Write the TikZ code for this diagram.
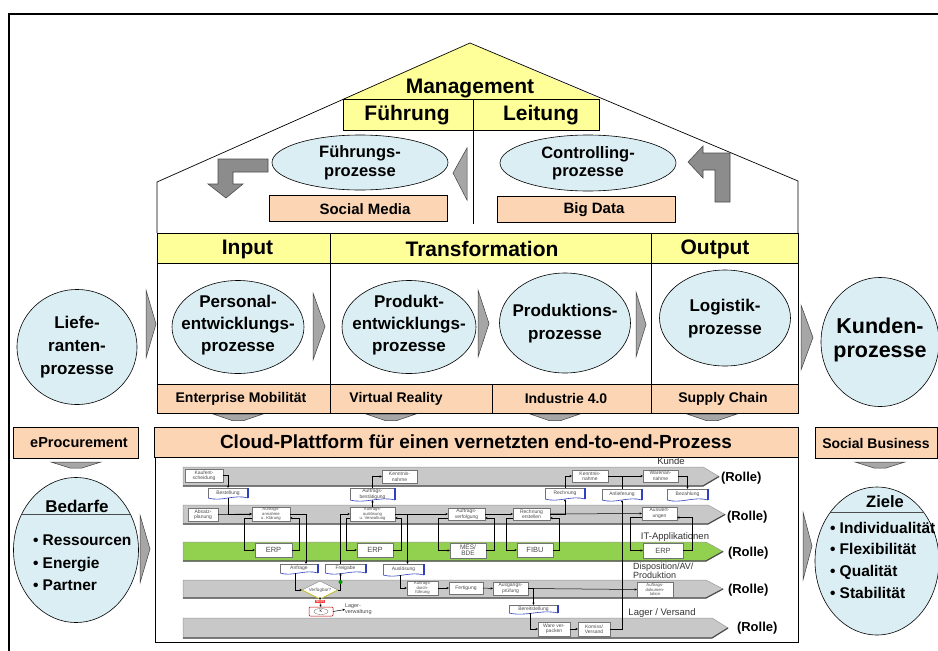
\documentclass[tikz,border=0pt]{standalone}
\usepackage{fontspec}
\setmainfont{Liberation Sans}
\usetikzlibrary{shapes.geometric,arrows.meta,calc}
\definecolor{yel}{HTML}{FFFF99}
\definecolor{peach}{HTML}{FCD5B5}
\definecolor{lblue}{HTML}{DBEEF4}
\definecolor{arrgray}{HTML}{A6A6A6}
\definecolor{bentgray}{HTML}{8C8C8C}
\definecolor{lanegray}{HTML}{C8C8C8}
\definecolor{lanegreen}{HTML}{92D050}
\definecolor{docblue}{HTML}{2F3FBF}
\newcommand\fsz[2]{\fontsize{#1}{#2}\selectfont}
\newcommand\docshape[1]{%
  \draw[black!55, line width=0.4pt] (#1.south west) -- (#1.north west) -- (#1.north east);
  \draw[docblue, line width=0.6pt] (#1.south west) .. controls ($(#1.south west)!0.35!(#1.south east)+(0,4)$) and ($(#1.south west)!0.65!(#1.south east)+(0,-4)$) .. (#1.south east);
  \draw[docblue, line width=1.1pt] (#1.north east) -- (#1.south east);
}
\begin{document}
\begin{tikzpicture}[x=1pt,y=-1pt,
  every node/.style={inner sep=0pt, outer sep=0pt},
  yelbox/.style={draw=black, line width=0.6pt, fill=yel},
  peachbox/.style={draw=black, line width=0.6pt, fill=peach},
  whitecell/.style={draw=black, line width=0.6pt, fill=white},
  procell/.style={ellipse, draw=black, line width=0.6pt, fill=lblue},
  ptext/.style={align=center, font=\bfseries\fsz{17}{22}},
  grarrow/.style={fill=arrgray, draw=black!75, line width=0.5pt},
  bent/.style={fill=bentgray, draw=black!70, line width=0.6pt},
  lanebg/.style={fill=lanegray, draw=black!40, line width=0.5pt},
  laneshadow/.style={draw=black!70, line width=1.2pt},
  pbox/.style={draw=black!55, line width=0.4pt, fill=white, align=center, font=\fsz{5}{5.5}, text=black!70},
  pboxs/.style={pbox, font=\fsz{4.2}{4.4}},
  itbox/.style={pbox, font=\fsz{7.5}{7.5}},
  docbox/.style={fill=white, align=center, font=\fsz{5}{5.5}, text=black!70},
  conn/.style={draw=black, line width=0.5pt, -{Stealth[length=2.5pt,width=2.2pt]}},
  plainline/.style={draw=black, line width=0.5pt},
  rolle/.style={font=\bfseries\fsz{13}{15}, anchor=west},
  lanelbl/.style={font=\fsz{9.5}{10.5}, text=black!80},
  bigbold/.style={font=\bfseries\fsz{21}{24}},
  lblbold/.style={font=\bfseries\fsz{14}{16}},
]
\useasboundingbox (0,0) rectangle (938,651);
\clip (0,0) rectangle (938,651);
\fill[white] (0,0) rectangle (938,651);
\draw[line width=2.2pt] (9,14) rectangle (990,700);

% ---------- roof ----------
\fill[yel] (470,43) -- (600,99) -- (343,99) -- cycle;
\draw[black, line width=0.7pt] (157,233) -- (157,182) -- (470,43) -- (798,181) -- (798,233);
\node[bigbold, anchor=base] (mgmt) at (470,93) {Management};
\node[yelbox, minimum width=130, minimum height=31] (fuehr) at (408,114.5) {};
\node[yelbox, minimum width=126, minimum height=31] (leit) at (536,114.5) {};
\node[bigbold] (fuehrt) at (407,115) {Führung};
\node[bigbold] (leitt) at (541,115) {Leitung};
\draw[plainline, line width=0.7pt] (fuehr.north east) -- (fuehr.north east |- 0,224);

\node[procell, minimum width=176, minimum height=55] (fp) at (360,162.5) {};
\node[ptext, font=\bfseries\fsz{16.5}{18.5}] (fpt) at (fp) {Führungs-\\prozesse};
\node[procell, minimum width=176, minimum height=56] (cp) at (588,163) {};
\node[ptext, font=\bfseries\fsz{16.5}{18.5}] (cpt) at (cp) {Controlling-\\prozesse};
\node[peachbox, minimum width=178, minimum height=26] (sm) at (358,208) {};
\node[font=\bfseries\fsz{15}{17}] (smt) at (365,209) {Social Media};
\node[peachbox, minimum width=178, minimum height=26] (bd) at (586,209) {};
\node[font=\bfseries\fsz{15}{17}] (bdt) at (594,210) {Big Data};

\draw[bent] (268,159) -- (218,159) -- (218,184) -- (208,184) -- (226,198) -- (243,184) -- (233,184) -- (233,172) -- (268,172) -- cycle;
\draw[bent] (730,202) -- (730,153) -- (703,153) -- (703,146) -- (688,162) -- (703,178) -- (703,170) -- (715,170) -- (715,202) -- cycle;
\draw[grarrow] (453,173) -- (467,148) -- (467,200) -- cycle;

% ---------- body ----------
\node[yelbox, minimum width=173, minimum height=30] (inp) at (243.5,248) {};
\node[yelbox, minimum width=321, minimum height=30] (trans) at (490.5,248) {};
\node[yelbox, minimum width=147, minimum height=30] (outp) at (724.5,248) {};
\node[bigbold] (inpt) at (247.5,249) {Input};
\node[bigbold] (transt) at (482,249) {Transformation};
\node[bigbold] (outpt) at (715,249) {Output};

\node[whitecell, minimum width=173, minimum height=121] (m1) at (243.5,323.5) {};
\node[whitecell, minimum width=321, minimum height=121] (m2) at (490.5,323.5) {};
\node[whitecell, minimum width=147, minimum height=121] (m3) at (724.5,323.5) {};

\node[peachbox, minimum width=173, minimum height=29] (ent) at (243.5,398.5) {};
\node[peachbox, minimum width=162, minimum height=29] (vr) at (411,398.5) {};
\node[peachbox, minimum width=159, minimum height=29] (ind) at (571.5,398.5) {};
\node[peachbox, minimum width=147, minimum height=29] (sc) at (724.5,398.5) {};
\node[lblbold] (entt) at (241,399) {Enterprise Mobilität};
\node[lblbold] (vrt) at (396,399) {Virtual Reality};
\node[lblbold] (indt) at (566,398) {Industrie 4.0};
\node[lblbold] (sct) at (723,399) {Supply Chain};

\node[procell, minimum width=120, minimum height=115] (lief) at (77,347) {};
\node[ptext, font=\bfseries\fsz{17}{23}] (lieft) at (77,347) {Liefe-\\ranten-\\prozesse};
\node[procell, minimum width=132, minimum height=93] (pers) at (238,327) {};
\node[ptext] (perst) at (238,325) {Personal-\\entwicklungs-\\prozesse};
\node[procell, minimum width=134, minimum height=93] (prod) at (409,327) {};
\node[ptext] (prodt) at (409,325) {Produkt-\\entwicklungs-\\prozesse};
\node[procell, minimum width=131, minimum height=100] (prodn) at (565,323) {};
\node[ptext, font=\bfseries\fsz{17}{23}] (prodnt) at (565,324) {Produktions-\\prozesse};
\node[procell, minimum width=131, minimum height=96] (logi) at (725,318) {};
\node[ptext, font=\bfseries\fsz{17}{23}] (logit) at (725,319) {Logistik-\\prozesse};
\node[procell, minimum width=118, minimum height=129] (kunden) at (880,342) {};
\node[ptext, font=\bfseries\fsz{21.5}{24}] (kundent) at (880,340) {Kunden-\\prozesse};

\draw[grarrow] (146,290) -- (156,324) -- (146,358) -- cycle;
\draw[grarrow] (313,293) -- (325,326.5) -- (313,360) -- cycle;
\draw[grarrow] (478,290) -- (489,323.5) -- (478,357) -- cycle;
\draw[grarrow] (636,292) -- (646,324.5) -- (636,357) -- cycle;
\draw[grarrow] (801,305) -- (813,337.5) -- (801,370) -- cycle;

% down arrows
\foreach \cx in {238,391,555,712} {
  \draw[grarrow] (\cx-25,414) -- (\cx+25,414) -- (\cx+6,420.5) -- (\cx-6,420.5) -- cycle;
}
\draw[grarrow] (51,462) -- (101,462) -- (82,468) -- (70,468) -- cycle;
\draw[grarrow] (855,462) -- (905,462) -- (886,468) -- (874,468) -- cycle;

% ---------- cloud row ----------
\node[peachbox, minimum width=644, minimum height=30] (cloud) at (476,442) {};
\node[font=\bfseries\fsz{19}{21}] (cloudt) at (476,442) {Cloud-Plattform für einen vernetzten end-to-end-Prozess};
\node[peachbox, minimum width=125, minimum height=31] (eproc) at (75.5,442.5) {};
\node[font=\bfseries\fsz{14.5}{16}] (eproct) at (79,443) {eProcurement};
\node[peachbox, minimum width=122, minimum height=31] (socbus) at (876,442.5) {};
\node[font=\bfseries\fsz{14}{16}] (socbust) at (876,443) {Social Business};

% ---------- Bedarfe / Ziele ----------
\node[procell, minimum width=125, minimum height=145] (bed) at (76,550) {};
\draw[black!70, line width=1pt] (22,514) -- (130,514);
\node[font=\bfseries\fsz{17}{19}, anchor=base] (bedt) at (77,512) {Bedarfe};
\node[font=\bfseries\fsz{15.5}{17}, anchor=base west] (b1) at (33,545) {• Ressourcen};
\node[font=\bfseries\fsz{15.5}{17}, anchor=base west] (b2) at (33,568) {• Energie};
\node[font=\bfseries\fsz{15.5}{17}, anchor=base west] (b3) at (33,590) {• Partner};
\draw[grarrow] (140,515) -- (150,549) -- (140,583) -- cycle;

\node[procell, minimum width=124, minimum height=148] (ziel) at (877,561) {};
\draw[black!70, line width=1pt] (830.5,512) -- (923.5,512);
\node[font=\bfseries\fsz{16.5}{19}, anchor=base] (zielt) at (885,507) {Ziele};
\node[font=\bfseries\fsz{15.5}{17}, anchor=base west] (z1) at (830,533) {• Individualität};
\node[font=\bfseries\fsz{15.5}{17}, anchor=base west] (z2) at (830,554) {• Flexibilität};
\node[font=\bfseries\fsz{15.5}{17}, anchor=base west] (z3) at (830,576) {• Qualität};
\node[font=\bfseries\fsz{15.5}{17}, anchor=base west] (z4) at (830,598) {• Stabilität};
\draw[grarrow] (803,512) -- (812,546) -- (803,580) -- cycle;

% ---------- process chart ----------
\node[draw=black, line width=0.8pt, fill=white, minimum width=643, minimum height=185] (chart) at (476.5,549.5) {};

\draw[lanebg] (183,467) -- (703,467) -- (719,476.5) -- (703,486) -- (183,486) -- cycle;
\draw[laneshadow] (183,486) -- (703,486) -- (719,476.5);
\draw[lanebg] (183,505) -- (708,505) -- (725,514.5) -- (708,524) -- (183,524) -- cycle;
\draw[laneshadow] (183,524) -- (708,524) -- (725,514.5);
\draw[lanebg, fill=lanegreen] (183,542) -- (706,542) -- (723,551.5) -- (706,561) -- (183,561) -- cycle;
\draw[laneshadow] (183,561) -- (706,561) -- (723,551.5);
\draw[lanebg] (183,580) -- (706,580) -- (723,589) -- (706,598) -- (183,598) -- cycle;
\draw[laneshadow] (183,598) -- (706,598) -- (723,589);
\draw[lanebg] (183,618) -- (712,618) -- (728,628) -- (712,638) -- (183,638) -- cycle;
\draw[laneshadow] (183,638) -- (712,638) -- (728,628);

\node[lanelbl] (kundel) at (671,461.5) {Kunde};
\node[lanelbl] (itl) at (675,537) {IT-Applikationen};
\node[lanelbl, font=\fsz{9}{8.5}, align=left, anchor=north west] (dispo) at (633,563) {Disposition/AV/\\Produktion};
\node[lanelbl] (lagl) at (662,613) {Lager / Versand};

\node[rolle] (r1) at (721,478) {(Rolle)};
\node[rolle] (r2) at (727,517) {(Rolle)};
\node[rolle] (r3) at (728,553) {(Rolle)};
\node[rolle] (r4) at (728,590) {(Rolle)};
\node[rolle] (r5) at (737,628) {(Rolle)};

% lane 1
\node[pbox, minimum width=38, minimum height=13] (kauf) at (204,475.5) {Kaufent-\\scheidung};
\node[pbox, minimum width=35, minimum height=13] (kenn1) at (399.5,476.5) {Kenntnis-\\nahme};
\node[pbox, minimum width=36, minimum height=12] (kenn2) at (590,476) {Kenntnis-\\nahme};
\node[pbox, minimum width=35, minimum height=12] (waren) at (660.5,476) {Warenan-\\nahme};
% documents 1/2
\node[docbox, minimum width=40, minimum height=10] (best) at (228,493) {Bestellung};
\node[docbox, minimum width=45, minimum height=12] (abest) at (372.5,494) {Auftrags-\\bestätigung};
\node[docbox, minimum width=40, minimum height=11] (rech) at (565,493.5) {Rechnung};
\node[docbox, minimum width=40, minimum height=11] (anlief) at (622,494.5) {Anlieferung};
\node[docbox, minimum width=41, minimum height=11] (bez) at (687.5,494.5) {Bezahlung};
\docshape{best}\docshape{abest}\docshape{rech}\docshape{anlief}\docshape{bez}
% lane 2
\node[pbox, minimum width=30, minimum height=13] (absatz) at (203,514.5) {Absatz-\\planung};
\node[pboxs, minimum width=38, minimum height=14] (aannahme) at (271,514) {Auftrags-\\annahme\\u. Klärung};
\node[pboxs, minimum width=45, minimum height=14] (aausl) at (372.5,514) {Auftrags-\\auslösung\\u. Verwaltung};
\node[pbox, minimum width=37, minimum height=12] (averf) at (466.5,514) {Auftrags-\\verfolgung};
\node[pbox, minimum width=37, minimum height=12] (rerst) at (531.5,514) {Rechnung\\erstellen};
\node[pbox, minimum width=35, minimum height=13] (ausw) at (659.5,513.5) {Auswert-\\ungen};
% lane 3
\node[itbox, minimum width=37, minimum height=14] (erp1) at (273.5,550) {ERP};
\node[itbox, minimum width=36, minimum height=14] (erp2) at (375,550) {ERP};
\node[itbox, font=\fsz{6.5}{6}, minimum width=36, minimum height=15] (mes) at (468,550.5) {MES/\\BDE};
\node[itbox, minimum width=36, minimum height=14] (fibu) at (535,550) {FIBU};
\node[itbox, minimum width=40, minimum height=15] (erp3) at (663,550.5) {ERP};
% documents 3/4
\node[docbox, minimum width=38, minimum height=9] (anfr) at (299,568.5) {Anfrage};
\node[docbox, minimum width=41, minimum height=9] (freig) at (345.5,568.5) {Freigabe};
\node[docbox, minimum width=41, minimum height=11] (auslos) at (403.5,569.5) {Auslösung};
\docshape{anfr}\docshape{freig}\docshape{auslos}
% lane 4
\node[diamond, aspect=2, draw=black!55, fill=white, line width=0.4pt, minimum width=36, minimum height=18, font=\fsz{4.5}{5}, text=black!70] (verf) at (320,590) {Verfügbar?};
\draw[yellow!80!black, line width=0.8pt] (verf.west) -- (verf.south) -- (verf.east);
\node[pboxs, minimum width=31, minimum height=14] (adurch) at (422.5,588) {Auftrags-\\durch-\\führung};
\node[pbox, minimum width=34, minimum height=12] (fert) at (466,588) {Fertigung};
\node[pbox, minimum width=35, minimum height=13] (ausg) at (510.5,588.5) {Ausgangs-\\prüfung};
\node[pboxs, minimum width=36, minimum height=15] (adok) at (655,589.5) {Auftrags-\\dokumen-\\tation};
\node[circle, fill=green!60!black, minimum size=4] (ja) at (340.5,582) {};
\node[fill=red!75, text=white, font=\fsz{3.5}{4}, inner sep=0.5pt] (nein) at (320,601.5) {NEIN};
\node[draw=red!70!black, rounded corners=1pt, line width=0.5pt, fill=white, minimum width=24, minimum height=9] (kbox) at (321,611.5) {};
\node[ellipse, draw=black!60, line width=0.3pt, minimum width=14, minimum height=6, font=\fsz{4}{4}] (kell) at (kbox) {K};
\node[anchor=west, align=left, font=\fsz{5.5}{5.8}, text=black!70] (lager) at (345,609.5) {Lager-\\verwaltung};
\node[docbox, minimum width=49, minimum height=8] (bereit) at (533.5,609) {Bereitstellung};
\docshape{bereit}
% lane 5
\node[pbox, minimum width=32, minimum height=14] (ware) at (554,629) {Ware ver-\\packen};
\node[pbox, minimum width=32, minimum height=14] (komiss) at (594,629) {Komiss/\\Versand};

% connectors
\draw[conn] (kauf.east) -| (best.north);
\draw[conn] (best.south) |- (aannahme.west);
\draw[conn] (absatz.east) -- (aannahme.west);
\draw[conn] ($(aannahme.west)+(0,4)$) -- ++(-8,0) |- (erp1.west);
\draw[conn] (erp1.east) -- ++(7,0) |- ($(aannahme.east)+(0,4)$);
\draw[conn] (aannahme.east) -| ($(anfr.north)+(7,0)$);
\draw[conn] ($(freig.north)+(-5,0)$) |- (aausl.west);
\draw[plainline] (verf.east) -| (ja.south);
\draw[conn] (ja.north) -- (ja.north |- freig.south);
\draw[conn] ($(anfr.south)+(-4,0)$) |- (verf.west);
\draw[conn] (verf.south) -- (nein.north);
\draw[conn] (nein.south) -- (kbox.north);
\draw[conn] (kbox.east) -- (lager.west);
\draw[conn] ($(aausl.west)+(0,4)$) -- ++(-4,0) |- (erp2.west);
\draw[conn] (erp2.east) -- ++(8,0) |- ($(aausl.east)+(0,4)$);
\draw[conn] (aausl.north) -- (abest.south);
\draw[conn] (abest.north) |- (kenn1.west);
\draw[conn] (aausl.east) -| ($(auslos.north)+(4,0)$);
\draw[conn] (aausl.east) -- (averf.west);
\draw[conn] ($(averf.west)+(0,4)$) -- ++(-10,0) |- (mes.west);
\draw[conn] (mes.east) -- ++(8,0) |- ($(averf.east)+(0,4)$);
\draw[conn] (averf.east) -- (rerst.west);
\draw[conn] ($(rerst.west)+(0,4)$) -- ++(-7,0) |- (fibu.west);
\draw[conn] (fibu.east) -- ++(6,0) |- ($(rerst.east)+(0,4)$);
\draw[conn] (rerst.east) -| (rech.south);
\draw[conn] (rech.north) |- (kenn2.west);
\draw[conn] (kenn2.east) -- (waren.west);
\draw[conn] (waren.east) -| (bez.north);
\draw[conn] (rerst.east) -- (ausw.west);
\draw[conn] ($(ausw.west)+(0,4)$) -- ++(-12,0) |- (erp3.west);
\draw[conn] (erp3.east) -- ++(9,0) |- ($(ausw.east)+(0,4)$);
\draw[conn] ($(auslos.south)+(-3,0)$) |- (adurch.west);
\draw[conn] (adurch.east) -- (fert.west);
\draw[conn] (fert.east) -- (ausg.west);
\draw[conn] (ausg.east) -- (adok.west);
\draw[conn] (ausg.east) -| (bereit.north);
\draw[conn] ($(bereit.south)+(-3,0)$) |- (ware.west);
\draw[conn] (ware.east) -- (komiss.west);
\draw[conn] (komiss.east) -| (anlief.south);
\draw[plainline] (anlief.north) -- (anlief.north |- kenn2.east);
\end{tikzpicture}
\end{document}
